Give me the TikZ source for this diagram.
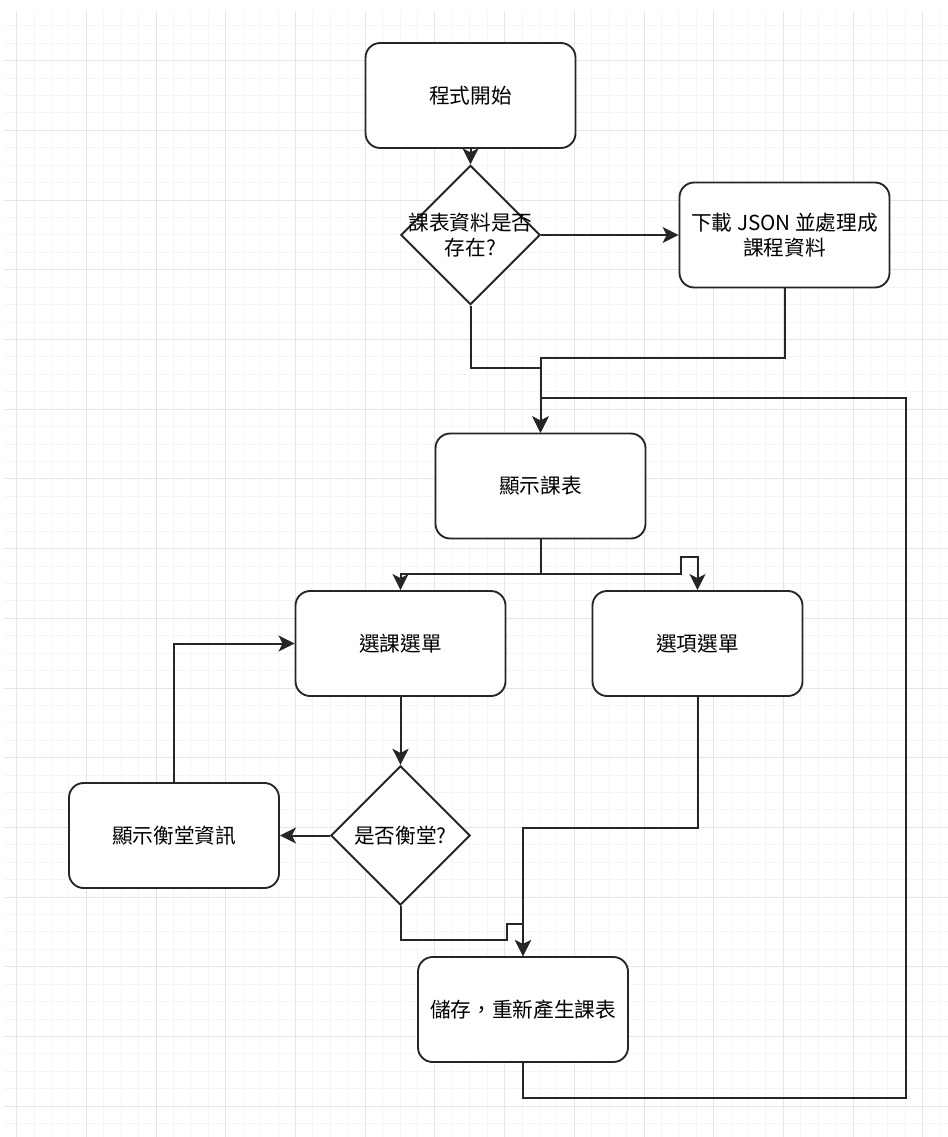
\documentclass[tikz,border=0pt]{standalone}
\usepackage{fontspec}
\setmainfont{Noto Sans CJK TC}
\usetikzlibrary{shapes.geometric,arrows.meta}

\begin{document}
\begin{tikzpicture}[x=0.75pt,y=-0.75pt,
	box/.style={draw=black!85,line width=1.4pt,fill=white,rounded corners=11pt,minimum width=157.5pt,minimum height=78.75pt,align=center,inner sep=2pt,font=\fontsize{15.5}{18.5}\selectfont},
	dia/.style={draw=black!85,line width=1.4pt,fill=white,diamond,minimum width=104.5pt,minimum height=104.5pt,inner sep=0pt},
	dtext/.style={align=center,font=\fontsize{15.5}{19}\selectfont},
	flow/.style={draw=black!85,line width=1.5pt,-{Stealth[length=12pt,width=12pt,inset=3pt]}},
	gridminor/.style={draw=black!4,line width=0.75pt},
	gridmajor/.style={draw=black!10,line width=0.75pt}]
\useasboundingbox (0,0) rectangle (948,1137);
\foreach \i in {0,...,53}
	\draw[gridminor] (16.7+17.425*\i,11) -- (16.7+17.425*\i,1137);
\foreach \i in {0,...,63}
	\draw[gridminor] (4,25.85+17.425*\i) -- (948,25.85+17.425*\i);
\foreach \i in {0,4,...,52}
	\draw[gridmajor] (16.7+17.425*\i,11) -- (16.7+17.425*\i,1137);
\foreach \i in {2,6,...,62}
	\draw[gridmajor] (4,25.85+17.425*\i) -- (948,25.85+17.425*\i);

\node[box] (start) at (470.5,95.5) {程式開始};
\node[dia,label={[dtext]center:{課表資料是否\\存在?}}] (dec1) at (470.5,235) {};
\node[box] (dl) at (784.5,235) {下載 JSON 並處理成\\課程資料};
\node[box] (disp) at (540.5,486) {顯示課表};
\node[box] (sel) at (400.5,643.5) {選課選單};
\node[box] (opt) at (697.5,643.5) {選項選單};
\node[dia,label={[dtext]center:是否衡堂?}] (dec2) at (400.5,835.5) {};
\node[box] (info) at (174,835.5) {顯示衡堂資訊};
\node[box] (save) at (523,1009.5) {儲存，重新產生課表};
\coordinate (ret) at (906,398);

\draw[flow] (start) -- (dec1);
\draw[flow] (dec1.east) -- (dl.west);
\draw[flow] (dec1.south) -- ++(0,62) -| (disp.north);
\draw[flow] (dl.south) -- ++(0,70) -| (disp.north);
\draw[flow] (save.south) -- ++(0,35) -| (ret) -| (disp.north);
\draw[flow] (disp.south) -- ++(0,35) -| (sel.north);
\draw[flow] (disp.south) -- ++(0,35) -- ++(140,0) -- ++(0,-17) -| (opt.north);
\draw[flow] (sel.south) -- (dec2.north);
\draw[flow] (dec2.west) -- (info.east);
\draw[flow] (info.north) |- (sel.west);
\draw[flow] (dec2.south) -- ++(0,34) -- ++(106,0) -- ++(0,-16) -| (save.north);
\draw[flow] (opt.south) -- ++(0,131) -| (save.north);
\end{tikzpicture}
\end{document}
